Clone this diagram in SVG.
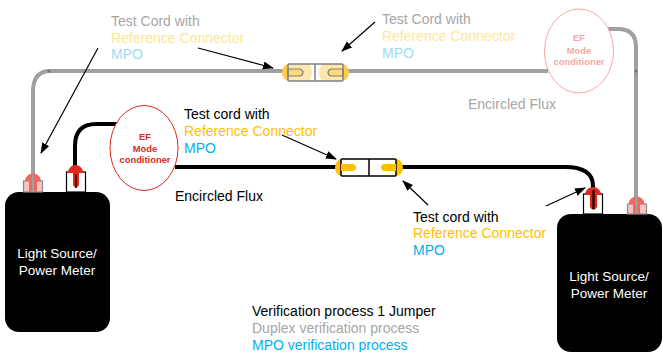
<svg xmlns="http://www.w3.org/2000/svg" width="662" height="352" viewBox="0 0 662 352">
<style>
text{font-family:"Liberation Sans",Arial,sans-serif;font-size:14px}
.k{fill:#000}.y{fill:#ffc000}.b{fill:#00b0f0}.g{fill:#a6a6a6}
.ly{fill:#ffe699}.lb{fill:#9bdcf5}
.m{font-size:9.400px;font-weight:bold;text-anchor:middle}
.box{fill:#000}
.w{fill:#fff;font-size:13.500px;text-anchor:middle}
.cb{fill:none;stroke:#000;stroke-width:4}
.cg{fill:none;stroke:#a0a0a0;stroke-width:4}
.ar{stroke:#000;stroke-width:1.200;fill:none;marker-end:url(#a)}
.pw{fill:#fff;stroke:#000;stroke-width:1.200}
.pl{fill:#f7c4c0;stroke:#8c8c8c;stroke-width:1.200}
.rd{fill:#e0281e}
.rl{fill:#ea6a62}
</style>
<defs>
<marker id="a" markerWidth="12" markerHeight="10" refX="10" refY="4" orient="auto" markerUnits="userSpaceOnUse"><path d="M0 0L11 4L0 8Z" fill="#000"/></marker>
</defs>
<g id="connectors">
<path class="cg" d="M33 178V92Q33 71 50 71H290M340 71H548"/>
<path class="cg" d="M608 29H618Q636 29 636 47V198"/>
<circle cx="49" cy="71" r="1.500" fill="#777"/>
<circle cx="636" cy="71" r="1.500" fill="#777"/>
<path class="cb" d="M75 172V146Q75 124 96 124H118"/>
<path class="cb" d="M175 167H345M392 167H565Q593 167 593 186V192"/>
<path class="ar" d="M198 48L273 68"/>
<path class="ar" d="M375 22L342 51"/>
<path class="ar" d="M98 48L41 153"/>
<path class="ar" d="M282 135L336 159"/>
<path class="ar" d="M428 205L403 181"/>
<path class="ar" d="M546 206L585 188"/>
</g>
<g id="source-left">
<rect class="box" x="5" y="192" width="105" height="140" rx="14"/>
<text class="w" x="57" y="258">Light Source/</text>
<text class="w" x="57" y="275">Power Meter</text>
<rect class="pl" x="23.500" y="181" width="19" height="11"/>
<path class="rl" d="M25 181a8 7.500 0 0 1 16 0H37V192H29V181Z"/>
<path d="M33 175V192" stroke="#a0a0a0" stroke-width="2"/>
<rect class="pw" x="66.500" y="172" width="19" height="20"/>
<path class="rd" d="M68 173a7.500 8 0 0 1 15 0H79V185Q76 191 73 185V173Z"/>
<path d="M76 174V188" stroke="#000" stroke-width="1.200"/>
</g>
<g id="source-right">
<rect class="box" x="557" y="214" width="105" height="138" rx="14"/>
<text class="w" x="609" y="281">Light Source/</text>
<text class="w" x="609" y="298">Power Meter</text>
<rect class="pl" x="627.500" y="204" width="19" height="10"/>
<path class="rl" d="M628.500 204a8 7.500 0 0 1 16 0H640V214H633V204Z"/>
<path d="M636.500 197V214" stroke="#a0a0a0" stroke-width="2"/>
<rect class="pw" x="583.500" y="194" width="19" height="20"/>
<path class="rd" d="M585 195a8 8 0 0 1 16 0H597V207Q593.500 213 590 207V195Z"/>
<path d="M593.500 190V209" stroke="#000" stroke-width="2.200"/>
</g>
<g id="conditioner-dark">
<ellipse cx="144" cy="148" rx="34" ry="42.500" fill="#fff" stroke="#e0281e"/>
<text class="m" x="145" y="139.500" fill="#e0281e">EF</text>
<text class="m" x="145" y="151.500" fill="#e0281e">Mode</text>
<text class="m" x="145" y="162.500" fill="#e0281e">conditioner</text>
</g>
<g id="conditioner-light">
<ellipse cx="579" cy="51" rx="34.500" ry="42" fill="#fff" stroke="#f4a9a4"/>
<text class="m" x="579" y="41" fill="#f4a9a4">EF</text>
<text class="m" x="579" y="53.500" fill="#f4a9a4">Mode</text>
<text class="m" x="579" y="64.500" fill="#f4a9a4">conditioner</text>
</g>
<g id="coupler-top">
<path d="M289 64A7 8.500 0 0 0 289 81H342A7 8.500 0 0 0 342 64Z" fill="#ffc94d"/>
<rect x="288" y="64" width="55" height="17" rx="1" fill="#fff"/>
<path d="M288 64H308Q312 66 312 72.500Q312 79 308 81H288ZM343 64H323Q319 66 319 72.500Q319 79 323 81H343Z" fill="#ffe8ad"/>
<path d="M288 69H300Q303 70 303 72.500Q303 75 300 76H288ZM343 69H331Q328 70 328 72.500Q328 75 331 76H343Z" fill="#ffd97a" stroke="#808080" stroke-width="1.200"/>
<rect x="288" y="64" width="55" height="17" rx="1" fill="none" stroke="#808080" stroke-width="1.500"/>
<path d="M315 64V81" stroke="#808080" stroke-width="1.500"/>
</g>
<g id="coupler-bottom">
<path d="M342 159A7 8.500 0 0 0 342 176H396A7 8.500 0 0 0 396 159Z" fill="#ffc000"/>
<rect x="341" y="159" width="55" height="17" rx="1" fill="#fff" stroke="#000" stroke-width="1.500"/>
<path d="M341 164H353Q356 165 356 167.500Q356 170 353 171H341ZM396 164H384Q381 165 381 167.500Q381 170 384 171H396Z" fill="#ffc000"/>
<path d="M369 159V176" stroke="#000" stroke-width="1.500"/>
</g>
<g id="labels">
<text class="g" x="111" y="26">Test Cord with</text>
<text class="ly" x="111" y="43">Reference Connector</text>
<text class="lb" x="111" y="59">MPO</text>
<text class="g" x="382" y="24">Test Cord with</text>
<text class="ly" x="382" y="41">Reference Connector</text>
<text class="lb" x="382" y="58">MPO</text>
<text class="g" x="468" y="109">Encircled Flux</text>
<text class="k" x="184" y="119">Test cord with</text>
<text class="y" x="184" y="136">Reference Connector</text>
<text class="b" x="184" y="153">MPO</text>
<text class="k" x="175" y="201">Encircled Flux</text>
<text class="k" x="413" y="222">Test cord with</text>
<text class="y" x="413" y="238">Reference Connector</text>
<text class="b" x="413" y="255">MPO</text>
<text class="k" x="252" y="316">Verification process 1 Jumper</text>
<text class="g" x="252" y="333">Duplex verification process</text>
<text class="b" x="252" y="350">MPO verification process</text>
</g>
</svg>
